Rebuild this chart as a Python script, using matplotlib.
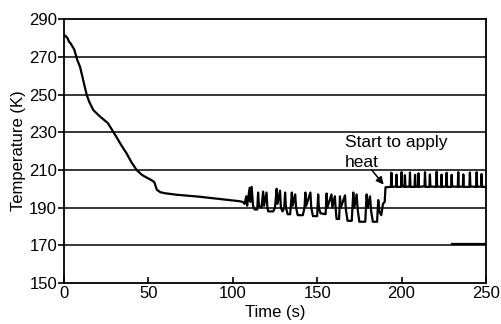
import matplotlib
matplotlib.use("Agg")
import matplotlib.pyplot as plt

plt.rcParams["font.family"] = ["Liberation Sans", "DejaVu Sans"]

# cool-down curve (s, K)
cool_t = [0, 1, 2, 3, 4, 6, 7, 8, 9.5, 11, 13.4, 15, 17.4, 21, 26, 31, 34, 37,
          40, 43, 46, 48, 52, 53.5, 55, 57, 60, 67, 80, 95, 104, 106]
cool_T = [281.5, 281, 280, 278, 277, 274, 271, 268, 264.7, 259, 250, 246, 241.7,
          238.6, 234.8, 227.6, 223, 218.9, 214, 210, 207.5, 206.4, 204.5, 203.5,
          199.5, 198.2, 197.6, 196.8, 195.8, 194.3, 193.4, 193]

# oscillating region before heating
osc_t = [107, 108, 108.5, 110, 110.5, 111.2, 112, 113, 114.5, 115, 115.5, 117,
         118, 118.5, 120, 120.5, 121, 124, 125, 126, 126.5, 128, 128.5, 129.5,
         130.5, 131, 131.5, 132.5, 134, 135, 135.5, 137, 137.5, 138.5, 141.5,
         142.5, 143, 143.5, 146, 146.5, 147.5, 150, 150.6, 151, 152, 155, 155.6,
         156, 158.5, 159, 160.5, 161, 161.5, 163, 163.5, 164, 166.5, 167, 168,
         170.5, 171.4, 172, 173.4, 174, 175, 178.5, 179.3, 180, 181.3, 182, 183,
         185.5, 186.2, 186.8, 188, 189, 190]
osc_T = [192, 196, 191, 200.5, 193, 201, 191, 189, 189, 198, 191, 190,
         198.5, 191, 198, 190, 188, 188, 190, 200, 192, 199, 190, 188,
         190, 198, 190, 186.5, 186.5, 198, 191, 197, 190, 186, 186,
         190, 198, 191, 198, 190, 185.5, 185.5, 197, 190, 187, 186.5, 197.5,
         190, 197, 190, 196, 189, 184, 184, 196, 190, 196.5, 189, 183,
         183, 198, 190, 197, 189, 182.5, 182.5, 197, 190, 196, 188, 182.5,
         182.5, 194, 188, 186, 192, 193]

# heated region: baseline with short spikes
heat_t = [190.5, 193.7, 194, 194.3, 196.7, 197, 197.3, 199.7, 200, 200.3,
          201.7, 202, 202.3, 204.7, 205, 205.3, 207.7, 208, 208.3, 209.7, 210, 210.3,
          213.6, 213.9, 214.2, 216.5, 216.8, 217.1, 220.5, 220.8, 221.1,
          223.4, 223.7, 224, 226.4, 226.7, 227, 229.4, 229.7, 230,
          233.3, 233.6, 233.9, 236.3, 236.6, 236.9, 240.2, 240.5, 240.8,
          244.2, 244.5, 244.8, 247.1, 247.4, 247.7, 250]
heat_T = [200.8, 201, 208.5, 201, 201.2, 207.5, 201, 201, 208.8, 201.3,
          201, 207.2, 201, 201.2, 208.6, 201, 201, 207.4, 201.2, 201, 208.2, 201,
          201.3, 208.8, 201, 201, 207.6, 201.2, 201, 209, 201.2,
          201, 207.5, 201, 201.2, 208.5, 201, 201, 207.4, 201.2,
          201, 208.8, 201, 201.2, 207.6, 201, 201, 208.6, 201.2,
          201, 208.8, 201, 201.2, 207.8, 201, 201]

stub_t = [230, 250]
stub_T = [170.6, 170.6]

fig = plt.figure(figsize=(5.02, 3.24), dpi=100)
ax = fig.add_axes([0.1275, 0.1265, 0.8405, 0.8145])

for y in range(170, 290, 20):
    ax.axhline(y, color="black", linewidth=1.1, zorder=1)

ax.plot(cool_t + osc_t + heat_t, cool_T + osc_T + heat_T, color="black",
        linewidth=1.6, zorder=3)
ax.plot(stub_t, stub_T, color="black", linewidth=1.6, zorder=3)

ax.text(166.5, 222.3, "Start to apply", fontsize=12.5, ha="left", va="baseline")
ax.text(166.5, 211.8, "heat", fontsize=12.5, ha="left", va="baseline")
ax.annotate("", xy=(189.4, 202.2), xytext=(182.3, 210),
            arrowprops=dict(arrowstyle="-|>", color="black", lw=1.1,
                            shrinkA=0, shrinkB=0, mutation_scale=11))

ax.set_xlim(0, 250)
ax.set_ylim(150, 290)
ax.set_xticks([0, 50, 100, 150, 200, 250])
ax.set_yticks(range(150, 291, 20))
ax.tick_params(axis="x", direction="in", length=4, width=1.2, labelsize=12, pad=2)
ax.tick_params(axis="y", direction="out", length=4, width=1.2, labelsize=12, pad=1)
for s in ax.spines.values():
    s.set_linewidth(1.3)

ax.set_xlabel("Time (s)", fontsize=12, labelpad=3)
ax.set_ylabel("Temperature (K)", fontsize=12, labelpad=2)

fig.savefig("out.png", dpi=100)
